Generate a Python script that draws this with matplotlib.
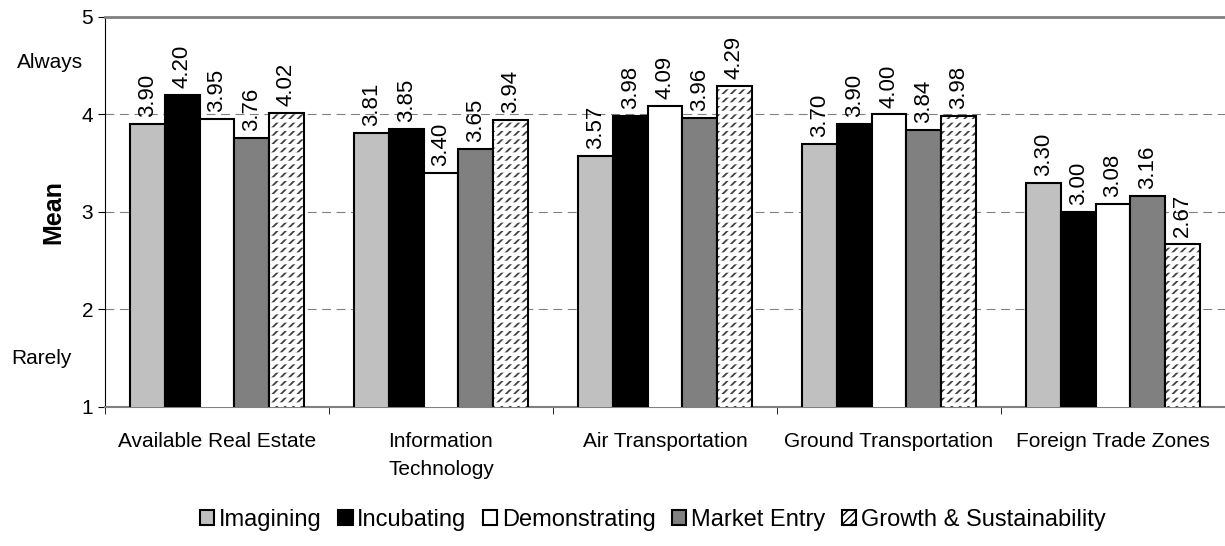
import matplotlib as mpl
import matplotlib.pyplot as plt
from matplotlib.patches import Patch
import numpy as np

plt.rcParams['font.family'] = ['Liberation Sans', 'DejaVu Sans']

categories = ['Available Real Estate', 'Information\nTechnology', 'Air Transportation',
              'Ground Transportation', 'Foreign Trade Zones']
series = ['Imagining', 'Incubating', 'Demonstrating', 'Market Entry', 'Growth & Sustainability']
imagining = [3.90, 3.81, 3.57, 3.70, 3.30]
incubating = [4.20, 3.85, 3.98, 3.90, 3.00]
demonstrating = [3.95, 3.40, 4.09, 4.00, 3.08]
market_entry = [3.76, 3.65, 3.96, 3.84, 3.16]
growth = [4.02, 3.94, 4.29, 3.98, 2.67]

values = [imagining, incubating, demonstrating, market_entry, growth]
colors = ['#C0C0C0', '#000000', '#FFFFFF', '#808080', '#FFFFFF']

fig = plt.figure(figsize=(12.25, 5.46), dpi=100)
ax = fig.add_axes([0.0857, 0.2546, 0.9143, 0.7143])

x = np.arange(len(categories))
w = 0.155
for i, vals in enumerate(values):
    pos = x + (i - 2) * w
    if i == 4:
        # short diagonal dashes: gray diagonal hatch cut by white horizontal hatch
        with mpl.rc_context({'hatch.color': '#404040', 'hatch.linewidth': 1.3}):
            ax.bar(pos, vals, width=w, color='white', linewidth=0, hatch='////', zorder=3)
        with mpl.rc_context({'hatch.color': 'white', 'hatch.linewidth': 2.6}):
            ax.bar(pos, vals, width=w, color='none', linewidth=0, hatch='--', zorder=3.1)
        ax.bar(pos, vals, width=w, color='none', edgecolor='black', linewidth=1.5,
               zorder=3.2)
    else:
        ax.bar(pos, vals, width=w, color=colors[i], edgecolor='black', linewidth=1.5,
               zorder=3)
    for p, v in zip(pos, vals):
        ax.annotate(f'{v:.2f}', (p, v), xytext=(0, 5), textcoords='offset points',
                    rotation=90, ha='center', va='bottom', fontsize=16, zorder=4)

ax.set_ylim(1, 5)
ax.set_xlim(-0.5, len(categories) - 0.5)
ax.set_yticks([1, 2, 3, 4, 5])
ax.set_xticks(x)
ax.set_xticklabels(categories, fontsize=15, linespacing=1.6, va='top')
ax.set_xticks(np.arange(len(categories) + 1) - 0.5, minor=True)
ax.tick_params(axis='x', which='major', length=0, pad=18)
ax.tick_params(axis='x', which='minor', length=5, direction='out', color='black')
ax.tick_params(axis='y', labelsize=15, length=5, direction='out')
for yv in [2, 3, 4]:
    ax.axhline(yv, color='#808080', linestyle=(0, (8, 5)), linewidth=0.8, zorder=1)

ax.spines['right'].set_visible(False)
ax.spines['top'].set_color('#808080')
ax.spines['top'].set_linewidth(2)
ax.spines['bottom'].set_color('#808080')
ax.spines['bottom'].set_linewidth(1.5)
ax.spines['left'].set_color('black')

ax.set_ylabel('Mean', fontsize=18, fontweight='bold', labelpad=12)
ax.text(-0.02, 4.53, 'Always', transform=ax.get_yaxis_transform(), ha='right',
        va='center', fontsize=15)
ax.text(-0.03, 1.5, 'Rarely', transform=ax.get_yaxis_transform(), ha='right',
        va='center', fontsize=15)

with mpl.rc_context({'hatch.color': '#404040', 'hatch.linewidth': 1.0}):
    handles = [Patch(facecolor=c, edgecolor='black', linewidth=1.5) for c in colors[:4]]
    handles.append(Patch(facecolor='white', edgecolor='black', linewidth=1.5, hatch='////'))
fig.legend(handles, series, loc='center', bbox_to_anchor=(0.533, 0.048), ncol=5,
           frameon=False, fontsize=17, handlelength=0.6, handleheight=0.6,
           handletextpad=0.2, columnspacing=0.7, borderaxespad=0)

fig.savefig('out.png', dpi=100)
